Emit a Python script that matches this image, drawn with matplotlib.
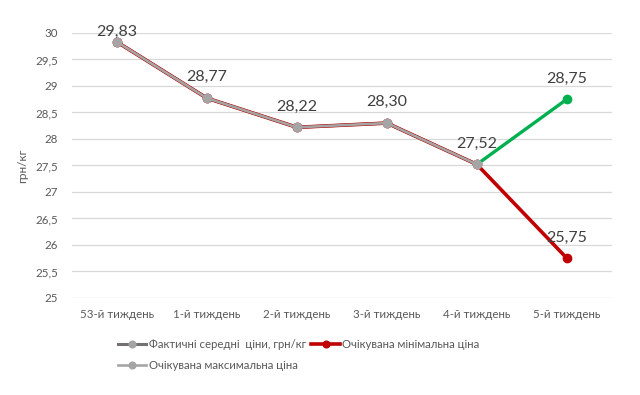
import numpy as np
import matplotlib
matplotlib.use("Agg")
import matplotlib.pyplot as plt
from matplotlib.ticker import FuncFormatter

plt.rcParams['font.family'] = ['Lato', 'DejaVu Sans']

# data
weeks = ['53-й тиждень', '1-й тиждень', '2-й тиждень', '3-й тиждень', '4-й тиждень', '5-й тиждень']
actual = [29.83, 28.77, 28.22, 28.30, 27.52, np.nan]
expected_min = [29.83, 28.77, 28.22, 28.30, 27.52, 25.75]
expected_max = [29.83, 28.77, 28.22, 28.30, 27.52, 28.75]
point_labels = [29.83, 28.77, 28.22, 28.30, 27.52]

label_offsets = [7, 15, 15, 15, 15]

fig = plt.figure(figsize=(6.4, 3.95), dpi=100)
ax = fig.add_axes([0.1125, 0.2456, 0.8435, 0.6709])

x = np.arange(len(weeks))
txt = '#404040'
tick_col = '#595959'

# actual prices (dark grey), drawn under the forecasts
l_act, = ax.plot(x, actual, color='#767171', lw=2.2, marker='o', ms=6,
                 mfc='#a5a5a5', mec='#a5a5a5', zorder=2, label='Фактичні середні  ціни, грн/кг')
# min forecast (red)
l_min, = ax.plot(x, expected_min, color='#c00000', lw=2.6, marker='o', ms=6,
                 mfc='#c00000', mec='#c00000', zorder=3, label='Очікувана мінімальна ціна')
# max forecast (grey, covering the common part), last segment green
l_max, = ax.plot(x[:5], expected_max[:5], color='#a5a5a5', lw=1.9, marker='o', ms=6,
                 mfc='#a5a5a5', mec='#a5a5a5', zorder=4, label='Очікувана максимальна ціна')
ax.plot(x[4:], expected_max[4:], color='#00b050', lw=2.4, zorder=4)
ax.plot(x[5], expected_max[5], 'o', ms=6, color='#00b050', zorder=5)
ax.plot(x[4], expected_max[4], 'o', ms=6, color='#a5a5a5', zorder=6)

for i, v in enumerate(point_labels):
    ax.annotate(f'{v:.2f}'.replace('.', ','), (x[i], v), textcoords='offset points',
                xytext=(0, label_offsets[i]), ha='center', va='center', fontsize=11.5, color=txt)
ax.annotate(f'{expected_max[5]:.2f}'.replace('.', ','), (x[5], expected_max[5]),
            textcoords='offset points', xytext=(0, 15), ha='center', va='center',
            fontsize=11.5, color=txt)
ax.annotate(f'{expected_min[5]:.2f}'.replace('.', ','), (x[5], expected_min[5]),
            textcoords='offset points', xytext=(0, 15), ha='center', va='center',
            fontsize=11.5, color=txt)

ax.set_xlim(-0.5, len(weeks) - 0.5)
ax.set_ylim(25, 30)
ax.set_yticks(np.arange(25, 30.01, 0.5))
ax.yaxis.set_major_formatter(FuncFormatter(lambda v, p: (f'{v:g}').replace('.', ',')))
ax.set_xticks(x)
ax.set_xticklabels(weeks)
ax.tick_params(axis='both', length=0, labelsize=8.3, colors=tick_col)
ax.tick_params(axis='x', pad=8)
ax.tick_params(axis='y', pad=10)
ax.grid(axis='y', color='#d9d9d9', lw=0.9)
ax.set_axisbelow(True)
for s in ax.spines.values():
    s.set_visible(False)
ax.set_ylabel('грн/кг', fontsize=8.5, color=tick_col, labelpad=5)

fig.legend([l_act, l_max, l_min],
           [l_act.get_label(), l_max.get_label(), l_min.get_label()],
           loc='upper left', bbox_to_anchor=(0.184, 0.142),
           ncol=2, frameon=False, fontsize=8.2, labelcolor=tick_col, markerscale=0.8,
           handlelength=2.5, handletextpad=0.2, columnspacing=0.5, labelspacing=0.9,
           borderpad=0, borderaxespad=0)

fig.savefig('out.png', dpi=100)
